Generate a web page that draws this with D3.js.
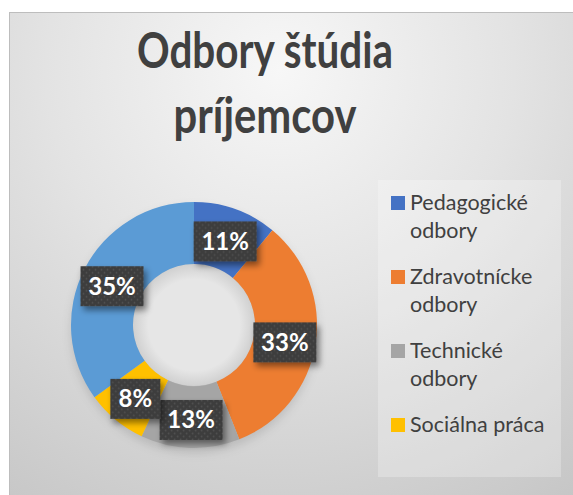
<!DOCTYPE html>
<html>
<head>
<meta charset="utf-8">
<script src="https://cdn.jsdelivr.net/npm/d3@7"></script>
<style>
html,body{margin:0;padding:0;background:#fff;}
svg{display:block;}
</style>
</head>
<body>
<svg id="chart" width="573" height="495"></svg>
<script>
const titleLines = ["Odbory štúdia", "príjemcov"];
const categories = ["Pedagogické odbory", "Zdravotnícke odbory", "Technické odbory", "Sociálna práca", "Iné"];
const legendLines = [["Pedagogické", "odbory"], ["Zdravotnícke", "odbory"], ["Technické", "odbory"], ["Sociálna práca"]];
const values = [11, 33, 13, 8, 35];
const colors = ["#4472C4", "#ED7D31", "#A5A5A5", "#FFC000", "#5B9BD5"];

const svg = d3.select("#chart");
const defs = svg.append("defs");

const bg = defs.append("radialGradient").attr("id", "bg")
  .attr("gradientUnits", "userSpaceOnUse")
  .attr("cx", 280).attr("cy", 70).attr("r", 520);
bg.append("stop").attr("offset", "0").attr("stop-color", "#f7f7f7");
bg.append("stop").attr("offset", "0.45").attr("stop-color", "#e3e3e3");
bg.append("stop").attr("offset", "1").attr("stop-color", "#c6c6c6");

const pat = defs.append("pattern").attr("id", "dots")
  .attr("patternUnits", "userSpaceOnUse").attr("width", 6).attr("height", 6);
pat.append("rect").attr("width", 6).attr("height", 6).attr("fill", "#3c3c3c");
pat.append("circle").attr("cx", 1.5).attr("cy", 1.5).attr("r", 0.9).attr("fill", "#525252");
pat.append("circle").attr("cx", 4.5).attr("cy", 4.5).attr("r", 0.9).attr("fill", "#525252");

const sh = defs.append("filter").attr("id", "shadow").attr("x", "-30%").attr("y", "-30%").attr("width", "170%").attr("height", "180%");
sh.append("feDropShadow").attr("dx", 3).attr("dy", 4).attr("stdDeviation", 3).attr("flood-color", "#000").attr("flood-opacity", 0.45);

const ringSh = defs.append("filter").attr("id", "ringshadow").attr("x", "-20%").attr("y", "-20%").attr("width", "140%").attr("height", "140%");
ringSh.append("feGaussianBlur").attr("stdDeviation", 5);

const innerShadow = defs.append("radialGradient").attr("id", "hole");
innerShadow.append("stop").attr("offset", "0.75").attr("stop-color", "#e6e6e6");
innerShadow.append("stop").attr("offset", "1").attr("stop-color", "#d0d0d0");

// chart area
svg.append("rect").attr("x", 9.5).attr("y", 12.5).attr("width", 580).attr("height", 500)
  .attr("fill", "url(#bg)").attr("stroke", "#bdbdbd").attr("stroke-width", 1);

// title
const titleWidths = [256, 183];
titleLines.forEach((t, i) => {
  svg.append("text").attr("text-anchor", "middle")
    .attr("font-family", "Lato, 'Open Sans', sans-serif").attr("font-weight", "bold")
    .attr("font-size", 49).attr("fill", "#404040")
    .attr("x", 265).attr("y", 68 + i * 65)
    .attr("textLength", titleWidths[i]).attr("lengthAdjust", "spacingAndGlyphs")
    .text(t);
});

// donut
const cx = 194, cy = 325, rOuter = 123, rInner = 61;
const pie = d3.pie().sort(null).value(d => d)(values);
const arc = d3.arc().innerRadius(rInner).outerRadius(rOuter);
const g = svg.append("g").attr("transform", `translate(${cx},${cy})`);

g.append("circle").attr("r", rOuter).attr("cy", 5).attr("fill", "#000")
  .attr("fill-opacity", 0.12).attr("filter", "url(#ringshadow)");
g.append("circle").attr("r", rInner).attr("fill", "url(#hole)");

g.selectAll("path.slice").data(pie).join("path").attr("class", "slice")
  .attr("d", arc).attr("fill", (d, i) => colors[i]);

// labels
const labelArc = d3.arc().innerRadius((rInner + rOuter) / 2).outerRadius((rInner + rOuter) / 2);
const lab = g.selectAll("g.lab").data(pie).join("g").attr("class", "lab")
  .attr("transform", d => {
    const c = labelArc.centroid(d);
    return `translate(${c[0]},${c[1] + 3})`;
  });
lab.each(function(d) {
  const s = d3.select(this);
  const txt = d.data + "%";
  const w = txt.length === 2 ? 50 : 63;
  s.append("rect").attr("x", -w / 2).attr("y", -20).attr("width", w).attr("height", 40)
    .attr("fill", "url(#dots)").attr("filter", "url(#shadow)");
  s.append("text").attr("text-anchor", "middle").attr("y", 8.5)
    .attr("font-family", "Lato, 'Open Sans', sans-serif").attr("font-weight", "bold")
    .attr("font-size", 24).attr("fill", "#fff").text(txt);
});

// legend
svg.append("rect").attr("x", 378).attr("y", 180).attr("width", 183).attr("height", 297)
  .attr("fill", "#ffffff").attr("fill-opacity", 0.25);
const lg = svg.append("g");
const entryY = [210, 284, 358, 432];
legendLines.forEach((lines, i) => {
  lg.append("rect").attr("x", 391).attr("y", entryY[i] - 14).attr("width", 14).attr("height", 14)
    .attr("fill", colors[i]);
  const t = lg.append("text").attr("font-family", "Lato, 'Open Sans', sans-serif")
    .attr("font-size", 21.5).attr("fill", "#404040");
  lines.forEach((l, j) => {
    t.append("tspan").attr("x", 410).attr("y", entryY[i] + j * 28).text(l);
  });
});
</script>
</body>
</html>
